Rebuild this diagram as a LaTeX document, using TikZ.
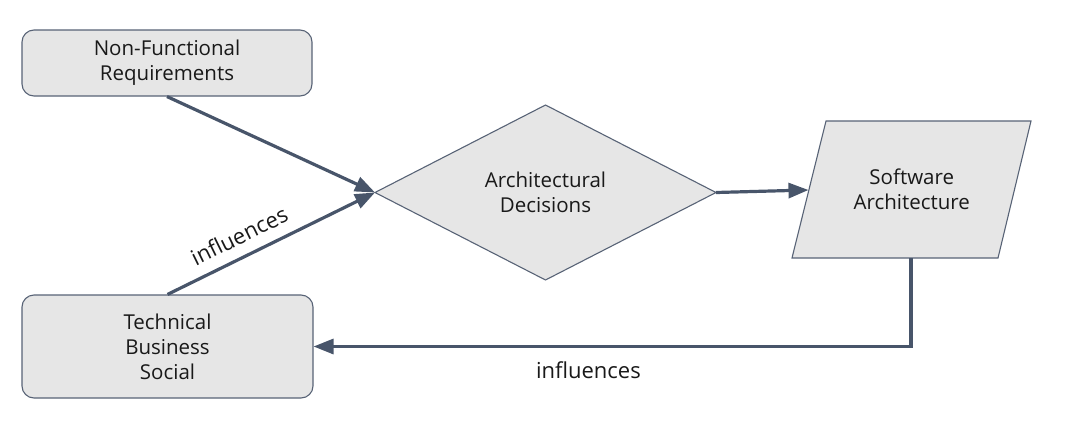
\documentclass[tikz,border=0pt]{standalone}
\usepackage{fontspec}
\setmainfont{Open Sans}
\usetikzlibrary{shapes.geometric,arrows.meta}
\definecolor{boxfill}{RGB}{230,230,230}
\definecolor{boxline}{RGB}{88,99,118}
\definecolor{arrowcol}{RGB}{72,85,106}
\begin{document}
\begin{tikzpicture}[x=1pt,y=-1pt,
  every node/.style={font=\fontsize{20.5}{25}\selectfont, align=center, text=black!90},
  lbl/.style={font=\fontsize{22}{26}\selectfont, inner sep=0pt},
  roundbox/.style={draw=boxline, fill=boxfill, line width=1.1pt, rounded corners=12pt, inner sep=0pt},
  flow/.style={draw=arrowcol, line width=3.2pt, -{Triangle[length=20pt,width=15pt]}}]
\useasboundingbox (0,0) rectangle (1069,434);
% boxes
\node[roundbox, minimum width=290pt, minimum height=66pt] (nfr) at (167,63) {Non-Functional\\Requirements};
\node[roundbox, minimum width=291pt, minimum height=103pt] (tbs) at (167.5,346.5) {Technical\\Business\\Social};
\node[diamond, draw=boxline, fill=boxfill, line width=1.1pt, inner sep=0pt, outer sep=0pt,
      minimum width=341pt, minimum height=175pt] (ad) at (545.5,192.5) {Architectural\\Decisions};
% parallelogram
\coordinate (ptl) at (826,121);
\coordinate (ptr) at (1031,121);
\coordinate (pbr) at (998,258);
\coordinate (pbl) at (792,258);
\draw[draw=boxline, fill=boxfill, line width=1.1pt, line join=miter] (ptl) -- (ptr) -- (pbr) -- (pbl) -- cycle;
\node (sa) at (911.75,189.5) {Software\\Architecture};
\coordinate (sawest) at (808.5,190);
\coordinate (sasouth) at (911,258);
% connectors
\draw[flow] (nfr.south) -- (ad.west);
\draw[flow] (tbs.north) -- node[lbl, pos=0.39, sloped, above=11pt] (lab1) {influences} (ad.west);
\draw[flow] (ad.east) -- (sawest);
\draw[flow, line join=miter] (sasouth) |- node[lbl, pos=0.77, below=14pt] (lab2) {influences} (tbs.east);
\end{tikzpicture}
\end{document}
